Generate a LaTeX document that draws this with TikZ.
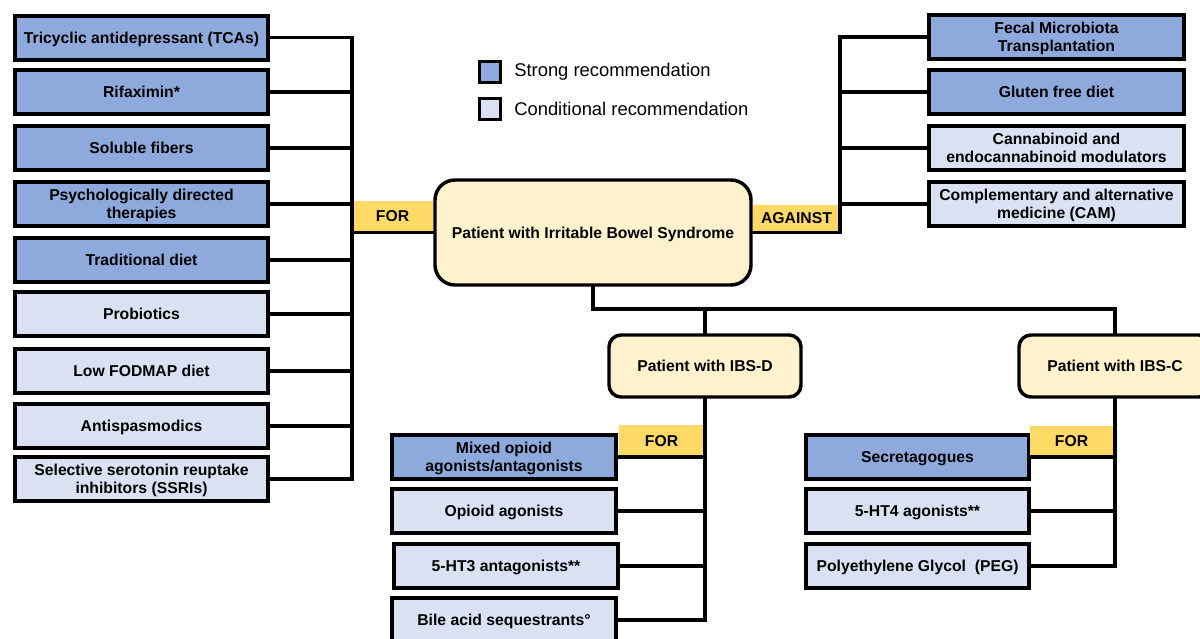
\documentclass[tikz,border=0pt]{standalone}
\usepackage{fontspec}
\setmainfont{Liberation Sans}
\definecolor{strongc}{HTML}{8EA9DB}
\definecolor{condc}{HTML}{D9E1F2}
\definecolor{forc}{HTML}{FFD966}
\definecolor{creamc}{HTML}{FFF2CC}
\begin{document}
\begin{tikzpicture}[x=0.75pt,y=-0.75pt,
  txt/.style={font=\fontsize{11.8}{13.5}\selectfont\bfseries, text depth=0pt},
  rec/.style={txt, draw=black, line width=3pt, minimum height=33pt, align=center, inner sep=1pt},
  strongbox/.style={rec, fill=strongc},
  condbox/.style={rec, fill=condc},
  lbox/.style={minimum width=189.75pt},
  rbox/.style={minimum width=191.25pt},
  dbox/.style={minimum width=168pt},
  cbox/.style={minimum width=167.25pt},
  patient/.style={txt, draw=black, line width=2.6pt, fill=creamc, align=center},
  forlab/.style={txt, fill=forc, inner sep=0pt},
  conn/.style={line width=2.4pt, line cap=rect},
  legbox/.style={draw=black, line width=2.3pt, minimum size=15.75pt, inner sep=0pt},
  legtxt/.style={font=\fontsize{13.8}{16}\selectfont, anchor=west, inner sep=0pt}
]
\clip (0,0) rectangle (1200,639);

% legend
\node[legbox, fill=strongc] (legS) at (490,72) {};
\node[legbox, fill=condc] (legC) at (490,109) {};
\node[legtxt] (legStxt) at (514,72) {Strong recommendation};
\node[legtxt] (legCtxt) at (514,109) {Conditional recommendation};

% left column
\node[strongbox, lbox] (tca) at (141.5,37.5) {Tricyclic antidepressant (TCAs)};
\node[strongbox, lbox] (rif) at (141.5,92) {Rifaximin*};
\node[strongbox, lbox] (sol) at (141.5,148) {Soluble fibers};
\node[strongbox, lbox] (psy) at (141.5,204) {Psychologically directed\\therapies};
\node[strongbox, lbox] (trad) at (141.5,260) {Traditional diet};
\node[condbox, lbox] (pro) at (141.5,314) {Probiotics};
\node[condbox, lbox] (fod) at (141.5,371) {Low FODMAP diet};
\node[condbox, lbox] (spa) at (141.5,426) {Antispasmodics};
\node[condbox, lbox] (ssri) at (141.5,479) {Selective serotonin reuptake\\inhibitors (SSRIs)};

% right column
\node[strongbox, rbox] (fmt) at (1056.5,37) {Fecal Microbiota\\Transplantation};
\node[strongbox, rbox] (glu) at (1056.5,92) {Gluten free diet};
\node[condbox, rbox] (can) at (1056.5,148) {Cannabinoid and\\endocannabinoid modulators};
\node[condbox, rbox] (cam) at (1056.5,204) {Complementary and alternative\\medicine (CAM)};

% patients
\node[patient, rounded corners=15pt, minimum width=237pt, minimum height=78.75pt] (main) at (593,232.5) {Patient with Irritable Bowel Syndrome};
\node[patient, rounded corners=9pt, minimum width=144pt, minimum height=46.5pt] (ibsd) at (705,366) {Patient with IBS-D};
\node[patient, rounded corners=9pt, minimum width=144pt, minimum height=46.5pt] (ibsc) at (1115,366) {Patient with IBS-C};

% IBS-D column
\node[strongbox, dbox] (mix) at (504,457) {Mixed opioid\\agonists/antagonists};
\node[condbox, dbox] (opa) at (504,511) {Opioid agonists};
\node[condbox, dbox] (htt) at (506,566) {5-HT3 antagonists**};
\node[condbox, dbox] (bile) at (504,620) {Bile acid sequestrants°};

% IBS-C column
\node[strongbox, cbox] (sec) at (917.5,457) {Secretagogues};
\node[condbox, cbox] (htf) at (917.5,511) {5-HT4 agonists**};
\node[condbox, cbox] (peg) at (917.5,566) {Polyethylene Glycol\ \ (PEG)};

% labels
\node[forlab, minimum width=60.75pt, minimum height=23.25pt] (forL) at (392.5,216.5) {FOR};
\node[forlab, minimum width=65.25pt, minimum height=20.25pt] (against) at (796.5,218.5) {AGAINST};
\node[forlab, minimum width=63.75pt, minimum height=24pt] (forD) at (661.5,441) {FOR};
\node[forlab, minimum width=62.25pt, minimum height=23.25pt] (forC) at (1071.5,441.5) {FOR};

% connectors
\coordinate (spineL) at (352,0);
\coordinate (spineR) at (840,0);
\coordinate (jn) at (0,309);

\draw[conn] (tca.east) -- (tca.east -| spineL) -- (ssri.east -| spineL) -- (ssri.east);
\foreach \n in {rif,sol,psy,trad,pro,fod,spa} \draw[conn] (\n.east) -- (\n.east -| spineL);
\draw[conn] (main.west) -- (main.west -| spineL);

\draw[conn] (fmt.west) -- (fmt.west -| spineR) -- (main.east -| spineR) -- (main.east);
\foreach \n in {glu,can,cam} \draw[conn] (\n.west) -- (\n.west -| spineR);

\draw[conn] (main.south) -- (main.south |- jn) -- (ibsc.north |- jn) -- (ibsc.north);
\draw[conn] (ibsd.north |- jn) -- (ibsd.north);

\draw[conn] (ibsd.south) -- (ibsd.south |- bile.east) -- (bile.east);
\foreach \n in {mix,opa,htt} \draw[conn] (\n.east) -- (\n.east -| ibsd.south);

\draw[conn] (ibsc.south) -- (ibsc.south |- peg.east) -- (peg.east);
\foreach \n in {sec,htf} \draw[conn] (\n.east) -- (\n.east -| ibsc.south);
\end{tikzpicture}
\end{document}
